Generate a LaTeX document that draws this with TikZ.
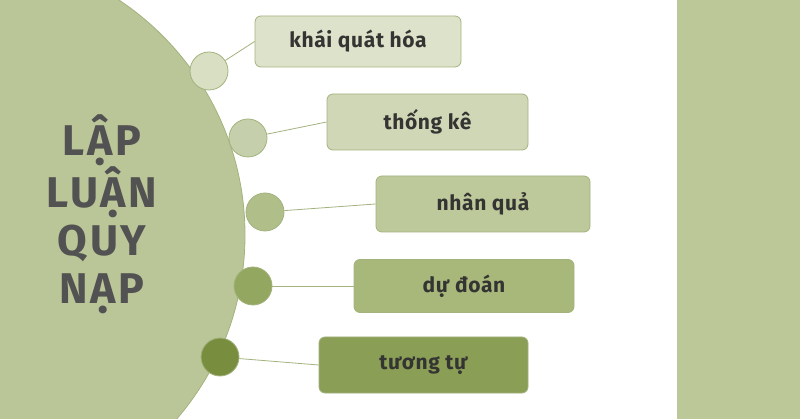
\documentclass[tikz,border=0pt]{standalone}
\usepackage{fontspec}
\setmainfont{Fira Sans}
\newfontfamily\itemfont{Fira Sans}[LetterSpace=3]
\newfontfamily\headfont{Fira Sans}[LetterSpace=6]
\definecolor{bigc}{HTML}{BAC698}
\definecolor{bar}{HTML}{BCC898}
\definecolor{edge}{HTML}{A3B37E}
\definecolor{txt}{HTML}{343432}
\definecolor{head}{HTML}{525252}
\definecolor{f1}{HTML}{DDE3CA}
\definecolor{f2}{HTML}{CFD7B7}
\definecolor{f3}{HTML}{BDC99B}
\definecolor{f4}{HTML}{A8B87B}
\definecolor{f5}{HTML}{8A9E56}
\definecolor{c1}{HTML}{D8DFC3}
\definecolor{c2}{HTML}{C6CFAB}
\definecolor{c3}{HTML}{B0BE8A}
\definecolor{c4}{HTML}{93A761}
\definecolor{c5}{HTML}{788D3E}
\begin{document}
\begin{tikzpicture}[x=1pt,y=-1pt,
  dot/.style={circle, draw=edge, line width=0.8pt, minimum size=38pt, inner sep=0pt},
  itembox/.style={rectangle, rounded corners=6pt, draw=edge, line width=0.8pt, inner sep=0pt,
     font=\itemfont\fontsize{21}{24}\selectfont\bfseries, text=txt},
  link/.style={draw=edge, line width=0.8pt}]
\useasboundingbox (0,0) rectangle (800,419);
\clip (0,0) rectangle (800,419);
\fill[white] (0,0) rectangle (800,419);
\node[circle, fill=bigc, draw=edge, line width=0.8pt, minimum size=564pt, inner sep=0pt] (big) at (-37,235) {};
\fill[bar] (677,0) rectangle (800,419);
\node[font=\headfont\fontsize{43}{48}\selectfont\bfseries, text=head, align=center] (title) at (102,214)
  {LẬP\\LUẬN\\QUY\\NẠP};
\node[itembox, fill=f1, minimum width=206pt, minimum height=51pt] (b1) at (358,41.5) {khái quát hóa};
\node[itembox, fill=f2, minimum width=201pt, minimum height=56pt] (b2) at (427.5,122) {thống kê};
\node[itembox, fill=f3, minimum width=214pt, minimum height=56pt] (b3) at (483,204) {nhân quả};
\node[itembox, fill=f4, minimum width=220pt, minimum height=53pt] (b4) at (464,286) {dự đoán};
\node[itembox, fill=f5, minimum width=209pt, minimum height=56pt] (b5) at (423.5,365) {tương tự};
\node[dot, fill=c1] (d1) at (209,71) {};
\node[dot, fill=c2] (d2) at (248,138) {};
\node[dot, fill=c3] (d3) at (265,212) {};
\node[dot, fill=c4] (d4) at (253,286) {};
\node[dot, fill=c5] (d5) at (220,357) {};
\draw[link] (d1) -- (b1.west);
\draw[link] (d2) -- (b2.west);
\draw[link] (d3) -- (b3.west);
\draw[link] (d4) -- (b4.west);
\draw[link] (d5) -- (b5.west);
\end{tikzpicture}
\end{document}
